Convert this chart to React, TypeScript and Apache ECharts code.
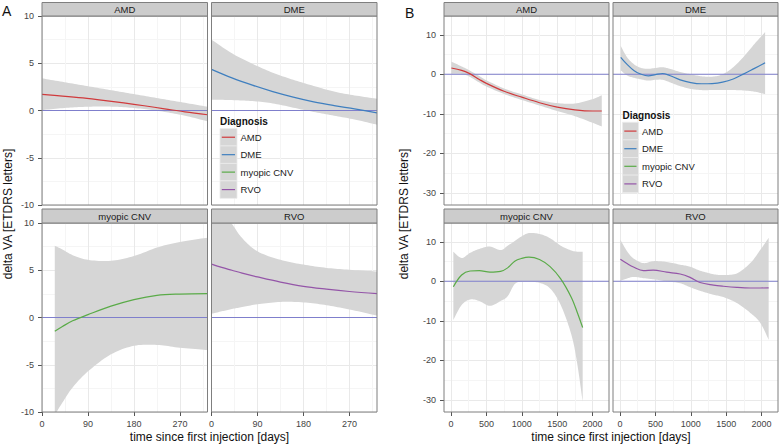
import React, { useEffect, useRef } from "react";
import * as echarts from "echarts";

const FONT = "'Liberation Sans', Arial, Helvetica, sans-serif";

const diagnoses = ["AMD", "DME", "myopic CNV", "RVO"];
const diagColors = ["#d03a3c", "#3f7fbf", "#5aab48", "#9455a8"];
const ZERO_COLOR = "#7f7fcc";

const xTicksA = [0, 90, 180, 270];
const yTicksA = [-10, -5, 0, 5, 10];
const xTicksB = [0, 500, 1000, 1500, 2000];
const yTicksB = [-30, -20, -10, 0, 10];

// ---- Panel A (first year) ----
const A_AMD_days = [0, 40, 80, 120, 160, 200, 240, 280, 324];
const A_AMD_fit = [1.7, 1.53, 1.33, 1.08, 0.8, 0.5, 0.18, -0.15, -0.45];
const A_AMD_lo = [0.05, 0.25, 0.38, 0.42, 0.35, 0.15, -0.15, -0.55, -1.15];
const A_AMD_hi = [3.4, 3.03, 2.66, 2.29, 1.92, 1.55, 1.18, 0.81, 0.4];

const A_DME_days = [0, 40, 80, 120, 160, 200, 240, 280, 324];
const A_DME_fit = [4.35, 3.45, 2.68, 2.0, 1.42, 0.92, 0.52, 0.17, -0.25];
const A_DME_lo = [1.15, 1.1, 1.0, 0.75, 0.3, -0.15, -0.55, -0.95, -1.5];
const A_DME_hi = [7.5, 6.05, 4.95, 4.0, 3.25, 2.6, 2.0, 1.6, 1.25];

const A_CNV_days = [25, 40, 60, 90, 135, 180, 225, 270, 324];
const A_CNV_fit = [-1.45, -0.95, -0.35, 0.3, 1.2, 1.9, 2.35, 2.48, 2.52];
const A_CNV_lo = [-10.3, -9.0, -7.4, -5.7, -3.9, -3.0, -2.9, -3.2, -3.45];
const A_CNV_hi = [7.6, 7.2, 6.6, 6.1, 6.0, 6.5, 7.4, 8.0, 8.45];

const A_RVO_days = [0, 20, 40, 60, 90, 135, 180, 225, 270, 324];
const A_RVO_fit = [5.65, 5.3, 5.0, 4.7, 4.3, 3.75, 3.3, 3.0, 2.75, 2.52];
const A_RVO_lo = [0.4, 0.65, 0.9, 1.1, 1.4, 1.65, 1.6, 1.3, 0.85, 0.2];
const A_RVO_hi = [12.8, 11.2, 9.9, 8.4, 7.0, 6.1, 5.6, 5.25, 5.05, 4.87];

// ---- Panel B (full follow-up) ----
const B_AMD_days = [5, 150, 250, 400, 500, 750, 1000, 1250, 1500, 1750, 2000, 2130];
const B_AMD_fit = [1.6, 1.0, 0.3, -1.3, -2.3, -4.3, -5.8, -7.2, -8.3, -9.0, -9.3, -9.3];
const B_AMD_lo = [0.1, 0.1, -0.5, -2.1, -3.1, -5.0, -6.5, -7.9, -9.3, -10.6, -12.3, -13.2];
const B_AMD_hi = [3.2, 2.0, 1.1, -0.45, -1.5, -3.6, -5.1, -6.5, -7.3, -7.4, -6.3, -5.3];

const B_DME_days = [10, 100, 200, 300, 400, 500, 600, 700, 850, 1000, 1150, 1300, 1450, 1600, 1750, 1900, 2050];
const B_DME_fit = [4.3, 2.5, 0.9, 0.0, -0.4, -0.1, 0.2, -0.3, -1.4, -2.1, -2.4, -2.35, -2.0, -1.2, 0.1, 1.5, 2.9];
const B_DME_lo = [1.0, -0.3, -0.9, -1.3, -1.6, -1.4, -1.4, -2.0, -3.0, -3.7, -4.0, -4.0, -4.0, -4.0, -4.1, -4.4, -5.0];
const B_DME_hi = [7.2, 4.3, 2.5, 1.6, 1.4, 1.6, 1.8, 1.4, 0.6, 0.0, -0.5, -0.6, 0.0, 1.8, 4.5, 7.7, 10.7];

const B_CNV_days = [33, 150, 270, 400, 550, 700, 800, 900, 1000, 1100, 1250, 1400, 1550, 1700, 1780, 1860];
const B_CNV_fit = [-1.4, 1.6, 2.6, 2.7, 2.3, 2.5, 3.4, 5.1, 5.8, 6.1, 5.5, 3.7, 0.6, -4.1, -7.7, -11.7];
const B_CNV_lo = [-9.8, -6.0, -4.6, -5.0, -6.2, -5.0, -3.8, -0.7, -0.1, -0.1, -0.4, -1.8, -6.0, -13.5, -20.5, -30.5];
const B_CNV_hi = [7.5, 5.9, 7.2, 8.2, 8.8, 7.9, 9.0, 10.2, 11.4, 12.2, 12.0, 10.9, 9.0, 7.8, 7.5, 7.5];

const B_RVO_days = [5, 100, 190, 330, 470, 660, 850, 990, 1130, 1320, 1460, 1650, 1840, 1980, 2100];
const B_RVO_fit = [5.6, 4.5, 3.6, 2.7, 2.85, 2.3, 1.85, 1.0, -0.3, -0.95, -1.25, -1.55, -1.7, -1.7, -1.65];
const B_RVO_lo = [0.1, 0.7, 1.1, 0.8, 0.5, 0.0, -0.5, -1.5, -2.4, -3.4, -4.0, -5.5, -8.0, -10.5, -14.8];
const B_RVO_hi = [10.5, 7.6, 5.8, 4.6, 5.1, 4.9, 4.2, 3.7, 2.7, 1.8, 1.6, 2.0, 4.6, 7.9, 11.0];

const facetsA = [
  { days: A_AMD_days, fit: A_AMD_fit, lo: A_AMD_lo, hi: A_AMD_hi },
  { days: A_DME_days, fit: A_DME_fit, lo: A_DME_lo, hi: A_DME_hi },
  { days: A_CNV_days, fit: A_CNV_fit, lo: A_CNV_lo, hi: A_CNV_hi },
  { days: A_RVO_days, fit: A_RVO_fit, lo: A_RVO_lo, hi: A_RVO_hi },
];
const facetsB = [
  { days: B_AMD_days, fit: B_AMD_fit, lo: B_AMD_lo, hi: B_AMD_hi },
  { days: B_DME_days, fit: B_DME_fit, lo: B_DME_lo, hi: B_DME_hi },
  { days: B_CNV_days, fit: B_CNV_fit, lo: B_CNV_lo, hi: B_CNV_hi },
  { days: B_RVO_days, fit: B_RVO_fit, lo: B_RVO_lo, hi: B_RVO_hi },
];

const ROW_TOP = [16, 223];
const ROW_H = 189;
const STRIP_TOP = [2.5, 209];
const STRIP_H = [13.5, 14];

// Catmull-Rom smoothing of already-projected pixel points (render-time only)
function smoothPts(pts: number[][], seg = 10): number[][] {
  const out: number[][] = [];
  const n = pts.length;
  for (let i = 0; i < n - 1; i++) {
    const p0 = pts[Math.max(0, i - 1)];
    const p1 = pts[i];
    const p2 = pts[i + 1];
    const p3 = pts[Math.min(n - 1, i + 2)];
    for (let s = 0; s < seg; s++) {
      const t = s / seg;
      const t2 = t * t;
      const t3 = t2 * t;
      const c = (k: number) =>
        0.5 * (2 * p1[k] + (-p0[k] + p2[k]) * t + (2 * p0[k] - 5 * p1[k] + 4 * p2[k] - p3[k]) * t2 + (-p0[k] + 3 * p1[k] - 3 * p2[k] + p3[k]) * t3);
      out.push([c(0), c(1)]);
    }
  }
  out.push(pts[n - 1]);
  return out;
}

function buildOption() {
  const grids: any[] = [];
  const xAxes: any[] = [];
  const yAxes: any[] = [];
  const series: any[] = [];
  const graphics: any[] = [];

  const panels = [
    {
      letter: "A", data: facetsA, lefts: [42, 211.5], width: 165.5,
      xr: [0, 324], yr: [-10, 10], xStep: 90, yStep: 5,
      xTicks: xTicksA, yTicks: yTicksA,
      letterPos: [2, 4], yTitleX: 8, legend: { x: 220, top: 128.5, step: 17.45, w: 17, titleY: 121 },
    },
    {
      letter: "B", data: facetsB, lefts: [444, 613], width: 165,
      xr: [-99, 2232], yr: [-33.1, 14.76], xStep: 500, yStep: 10,
      xTicks: xTicksB, yTicks: yTicksB,
      letterPos: [405, 6], yTitleX: 404, legend: { x: 622.5, top: 122.3, step: 17.6, w: 16, titleY: 115.7 },
    },
  ];

  panels.forEach((p) => {
    p.data.forEach((f, fi) => {
      const row = Math.floor(fi / 2);
      const col = fi % 2;
      const g = grids.length;
      const left = p.lefts[col];
      const top = ROW_TOP[row];
      const bottomRow = row === 1;
      const leftCol = col === 0;
      grids.push({ left, top, width: p.width, height: ROW_H, show: false, containLabel: false, outerBoundsMode: "none" });
      xAxes.push({
        type: "value", gridIndex: g, min: p.xr[0], max: p.xr[1], z: 0,
        minInterval: p.xStep, maxInterval: p.xStep, splitNumber: 5,
        axisLine: { show: false, onZero: false, lineStyle: { color: ZERO_COLOR, width: 1 } },
        axisTick: { show: bottomRow, length: 4, lineStyle: { color: "#555", width: 1 }, customValues: p.xTicks },
        axisLabel: {
          show: bottomRow, color: "#444", fontSize: 9, fontFamily: FONT, margin: 7,
          customValues: p.xTicks, formatter: (v: number) => String(v),
        },
        splitLine: { show: true, lineStyle: { color: "#e9e9e9", width: 1 } },
        minorTick: { show: false, splitNumber: 2 },
        minorSplitLine: { show: true, lineStyle: { color: "#f5f5f5", width: 1 } },
      });
      yAxes.push({
        type: "value", gridIndex: g, min: p.yr[0], max: p.yr[1], z: 0,
        minInterval: p.yStep, maxInterval: p.yStep, splitNumber: 5,
        axisLine: { show: false, onZero: false, lineStyle: { color: "#7f7f7f", width: 1 } },
        axisTick: { show: leftCol, length: 4, lineStyle: { color: "#555", width: 1 }, customValues: p.yTicks },
        axisLabel: {
          show: leftCol, color: "#444", fontSize: 9, fontFamily: FONT, margin: 8,
          customValues: p.yTicks, formatter: (v: number) => String(v),
        },
        splitLine: { show: true, lineStyle: { color: "#e9e9e9", width: 1 } },
        minorTick: { show: false, splitNumber: 2 },
        minorSplitLine: { show: true, lineStyle: { color: "#f5f5f5", width: 1 } },
      });
      // confidence ribbon + zero reference line
      series.push({
        type: "custom", xAxisIndex: g, yAxisIndex: g, clip: true, silent: true, z: 3,
        data: f.days.map((d, i) => [d, f.lo[i], f.hi[i]]),
        encode: { x: 0, y: [1, 2] },
        renderItem: (params: any, api: any) => {
          if (params.dataIndex !== 0) return null;
          const cs = params.coordSys;
          const up = f.days.map((d, i) => api.coord([d, f.hi[i]]));
          const dn = f.days.map((d, i) => api.coord([d, f.lo[i]]));
          const pts = smoothPts(up).concat(smoothPts(dn).reverse());
          const y0 = api.coord([f.days[0], 0])[1];
          return {
            type: "group",
            children: [
              { type: "polygon", z2: 1, shape: { points: pts }, style: { fill: "#d6d6d6", stroke: null } },
              {
                type: "line", z2: 5,
                shape: { x1: cs.x, y1: y0, x2: cs.x + cs.width, y2: y0 },
                style: { stroke: ZERO_COLOR, lineWidth: 1.1 },
              },
            ],
          };
        },
      });
      // fitted smooth
      series.push({
        type: "line", name: diagnoses[fi], xAxisIndex: g, yAxisIndex: g,
        data: f.days.map((d, i) => [d, f.fit[i]]),
        symbol: "none", smooth: 0.35, silent: true, z: 4,
        lineStyle: { color: diagColors[fi], width: 1.2 },
      });
      // panel border
      graphics.push({
        type: "rect", z: 100, silent: true,
        shape: { x: left, y: top, width: p.width, height: ROW_H },
        style: { fill: "none", stroke: "#7f7f7f", lineWidth: 1 },
      });
      // strip
      graphics.push({
        type: "rect", z: 100, silent: true,
        shape: { x: left, y: STRIP_TOP[row], width: p.width, height: STRIP_H[row] },
        style: { fill: "#cccccc", stroke: "#7f7f7f", lineWidth: 1 },
      });
      graphics.push({
        type: "text", z: 101, silent: true,
        x: left + p.width / 2, y: STRIP_TOP[row] + STRIP_H[row] / 2 + 0.5,
        style: { text: diagnoses[fi], fontSize: 9.5, fontFamily: FONT, fill: "#1a1a1a", align: "center", verticalAlign: "middle" },
      });
    });

    graphics.push({
      type: "text", z: 101, silent: true, x: p.letterPos[0], y: p.letterPos[1],
      style: { text: p.letter, fontSize: 14, fontFamily: FONT, fill: "#111", align: "left", verticalAlign: "top" },
    });
    const midX = (p.lefts[0] + p.lefts[1] + p.width) / 2;
    graphics.push({
      type: "text", z: 101, silent: true, x: midX, y: 437,
      style: { text: "time since first injection [days]", fontSize: 12, fontFamily: FONT, fill: "#111", align: "center", verticalAlign: "middle" },
    });
    graphics.push({
      type: "text", z: 101, silent: true, x: p.yTitleX, y: (ROW_TOP[0] + ROW_TOP[1] + ROW_H) / 2,
      rotation: Math.PI / 2,
      style: { text: "delta VA [ETDRS letters]", fontSize: 12, fontFamily: FONT, fill: "#111", align: "center", verticalAlign: "middle" },
    });
    const L = p.legend;
    graphics.push({
      type: "text", z: 101, silent: true, x: L.x, y: L.titleY,
      style: { text: "Diagnosis", fontSize: 10, fontWeight: "bold", fontFamily: FONT, fill: "#111", align: "left", verticalAlign: "middle" },
    });
    diagnoses.forEach((name, k) => {
      const y0 = L.top + k * L.step;
      graphics.push({
        type: "rect", z: 100, silent: true,
        shape: { x: L.x, y: y0, width: L.w, height: L.step },
        style: { fill: "#d6d6d6", stroke: "#ebebeb", lineWidth: 0.8 },
      });
      graphics.push({
        type: "line", z: 101, silent: true,
        shape: { x1: L.x + 1.8, y1: y0 + L.step / 2, x2: L.x + L.w - 2, y2: y0 + L.step / 2 },
        style: { stroke: diagColors[k], lineWidth: 1.2 },
      });
      graphics.push({
        type: "text", z: 101, silent: true, x: L.x + L.w + 3.5, y: y0 + L.step / 2,
        style: { text: name, fontSize: 9.5, fontFamily: FONT, fill: "#1a1a1a", align: "left", verticalAlign: "middle" },
      });
    });
  });

  return {
    animation: false,
    backgroundColor: "#ffffff",
    textStyle: { fontFamily: FONT },
    grid: grids,
    xAxis: xAxes,
    yAxis: yAxes,
    series,
    graphic: { elements: graphics },
  };
}

export default function App() {
  const ref = useRef<HTMLDivElement>(null);
  useEffect(() => {
    if (!ref.current) return;
    const chart = echarts.init(ref.current, null, { renderer: "svg" });
    chart.setOption(buildOption() as any);
    return () => chart.dispose();
  }, []);
  return (
    <div
      ref={ref}
      style={{ position: "absolute", left: 0, top: 0, width: 780, height: 445, background: "#fff" }}
    />
  );
}
